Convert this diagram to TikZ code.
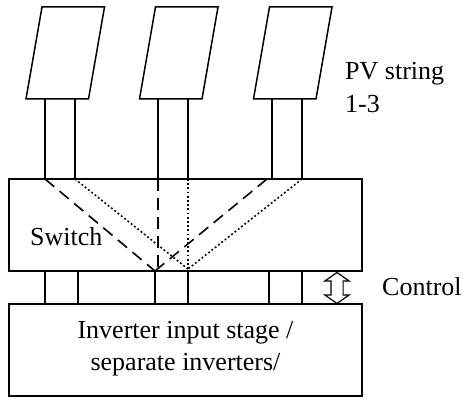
\documentclass[tikz,border=0pt]{standalone}
\usepackage{fontspec}
\setmainfont{Liberation Serif}
\usetikzlibrary{shapes.arrows}
\begin{document}
\begin{tikzpicture}[x=1pt,y=1pt]
	\tikzstyle{panel}=[draw=black,line width=1.5pt,transform shape,xslant=0.174,minimum width=62.5pt,minimum height=92pt,inner sep=0pt]
	\tikzstyle{block}=[draw=black,line width=1.5pt,minimum width=353pt,minimum height=92pt,inner sep=0pt]
	\tikzstyle{label}=[font=\fontsize{26}{32.5}\selectfont,inner sep=0pt]
	\tikzstyle{lead}=[draw,line width=1.5pt]
	\tikzstyle{dashroute}=[draw,line width=1.6pt,dash pattern=on 12pt off 7pt]
	\tikzstyle{dotroute}=[draw,line width=1.6pt,dash pattern=on 1.8pt off 2.4pt]
	\useasboundingbox (0,0) rectangle (465,401);
	\begin{scope}
		% panels
		\begin{scope}[shift={(65.25,348)}]
			\node [panel] (pv1) at (0,0) {};
		\end{scope}
		\begin{scope}[shift={(178.75,348)}]
			\node [panel] (pv2) at (0,0) {};
		\end{scope}
		\begin{scope}[shift={(292.75,348)}]
			\node [panel] (pv3) at (0,0) {};
		\end{scope}
		% boxes
		\node [block] (switch) at (185.5,176) {};
		\node [block] (inverter) at (185.5,51) {};
		% terminals
		\coordinate (t1a) at (45,302);
		\coordinate (t1b) at (75,302);
		\coordinate (t2a) at (158,302);
		\coordinate (t2b) at (188,302);
		\coordinate (t3a) at (272,302);
		\coordinate (t3b) at (302,302);
		\coordinate (s1a) at (45,222);
		\coordinate (s1b) at (75,222);
		\coordinate (s2a) at (158,222);
		\coordinate (s2b) at (188,222);
		\coordinate (s3a) at (272,222);
		\coordinate (s3b) at (302,222);
		\coordinate (r3a) at (267,222);
		\coordinate (u1a) at (45,130);
		\coordinate (u1b) at (78,130);
		\coordinate (u2a) at (155,130);
		\coordinate (u2b) at (188,130);
		\coordinate (u3a) at (269,130);
		\coordinate (u3b) at (302,130);
		\coordinate (v1a) at (45,97);
		\coordinate (v1b) at (78,97);
		\coordinate (v2a) at (155,97);
		\coordinate (v2b) at (188,97);
		\coordinate (v3a) at (269,97);
		\coordinate (v3b) at (302,97);
		\coordinate (d1) at (155,130);
		\coordinate (d2) at (158,130);
		\coordinate (d3) at (188,132);
		% upper leads
		\path[lead] (t1a) -- (s1a);
		\path[lead] (t1b) -- (s1b);
		\path[lead] (t2a) -- (s2a);
		\path[lead] (t2b) -- (s2b);
		\path[lead] (t3a) -- (s3a);
		\path[lead] (t3b) -- (s3b);
		% routes through the switch
		\path[dashroute] (s1a) -- (d1);
		\path[dashroute] (s2a) -- (d2);
		\path[dashroute] (r3a) -- (d1);
		\path[dotroute] (s1b) -- (d3);
		\path[dotroute] (s2b) -- (d3);
		\path[dotroute] (s3b) -- (d3);
		% lower leads
		\path[lead] (u1a) -- (v1a);
		\path[lead] (u1b) -- (v1b);
		\path[lead] (u2a) -- (v2a);
		\path[lead] (u2b) -- (v2b);
		\path[lead] (u3a) -- (v3a);
		\path[lead] (u3b) -- (v3b);
		% control arrow
		\node [double arrow,draw=black,line width=1.2pt,rotate=90,minimum height=31pt,inner xsep=0pt,inner ysep=5.5pt,double arrow head extend=6pt,double arrow tip angle=110,double arrow head indent=0pt] (ctrl) at (337,113) {};
		% labels
		\node [label,anchor=west,align=left] (pvlabel) at (345,313.5) {PV string\\1-3};
		\node [label,anchor=west] (swlabel) at (30,164) {Switch};
		\node [label,anchor=west] (ctrllabel) at (382,114) {Control};
		\node [label,align=center] (invlabel) at (185.5,52.5) {Inverter input stage /\\separate inverters/};
	\end{scope}
\end{tikzpicture}
\end{document}
